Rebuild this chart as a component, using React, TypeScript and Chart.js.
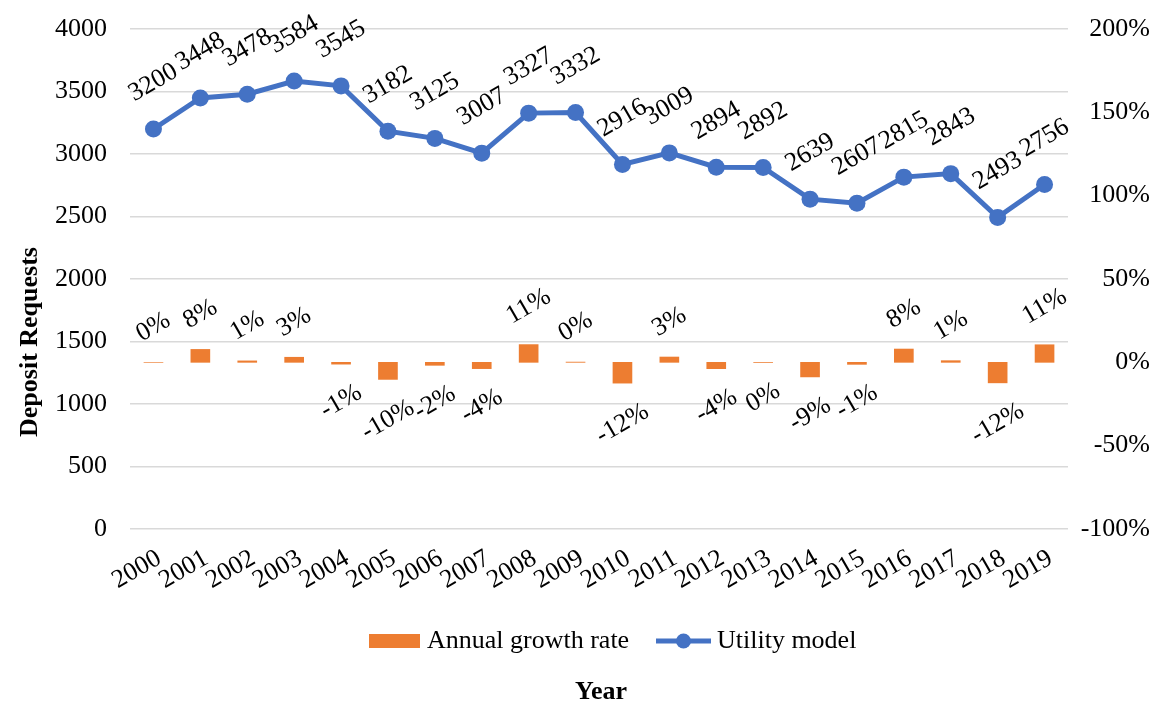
import React, { useEffect, useRef } from 'react';
import { Chart, registerables } from 'chart.js';

Chart.register(...registerables);

const years = ['2000', '2001', '2002', '2003', '2004', '2005', '2006', '2007', '2008', '2009', '2010', '2011', '2012', '2013', '2014', '2015', '2016', '2017', '2018', '2019'];
const utilityModel = [3200, 3448, 3478, 3584, 3545, 3182, 3125, 3007, 3327, 3332, 2916, 3009, 2894, 2892, 2639, 2607, 2815, 2843, 2493, 2756];
const growthRate = [0, 7.75, 0.87, 3.05, -1.09, -10.24, -1.79, -3.78, 10.64, 0.15, -12.48, 3.19, -3.82, -0.07, -8.75, -1.21, 7.98, 0.99, -12.31, 10.55];

const leftAxis = { min: 0, max: 4000, step: 500 };
const rightAxis = { min: -100, max: 200, step: 50 };

const seriesNames = { bar: 'Annual growth rate', line: 'Utility model' };
const axisTitles = { x: 'Year', y: 'Deposit Requests' };

const FONT = "'Liberation Serif', 'Times New Roman', serif";
const BLUE = '#4472C4';
const ORANGE = '#ED7D31';
const ANGLE = 30;

const labelPlugin = {
  id: 'rotLabels',
  afterDatasetsDraw(chart: any) {
    const ctx = chart.ctx;
    const a = (ANGLE * Math.PI) / 180;
    ctx.save();
    ctx.font = `26px ${FONT}`;
    ctx.fillStyle = '#000';
    ctx.textAlign = 'center';
    ctx.textBaseline = 'middle';
    chart.data.datasets.forEach((ds: any, di: number) => {
      const meta = chart.getDatasetMeta(di);
      const isBar = ds.type === 'bar';
      meta.data.forEach((el: any, i: number) => {
        const v = ds.data[i];
        const text = isBar ? `${Math.round(v)}%` : String(v);
        const w = ctx.measureText(text).width;
        const hh = (w * Math.sin(a) + 22 * Math.cos(a)) / 2;
        const gap = isBar ? 17 : 24;
        const y = v >= 0 ? el.y - gap - hh : el.y + gap + hh;
        ctx.save();
        ctx.translate(el.x, y);
        ctx.rotate(-a);
        ctx.fillText(text, 0, 0);
        ctx.restore();
      });
    });
    ctx.restore();
  },
};

const decorPlugin = {
  id: 'decor',
  afterDraw(chart: any) {
    const ctx = chart.ctx;
    ctx.save();
    ctx.fillStyle = '#000';
    ctx.font = `bold 26px ${FONT}`;
    ctx.textAlign = 'center';
    ctx.textBaseline = 'middle';
    ctx.save();
    ctx.translate(30, 342);
    ctx.rotate(-Math.PI / 2);
    ctx.fillText(axisTitles.y, 0, 0);
    ctx.restore();
    ctx.fillText(axisTitles.x, 601, 692);
    const ly = 641;
    ctx.fillStyle = ORANGE;
    ctx.fillRect(369, ly - 7, 51, 14);
    ctx.fillStyle = '#000';
    ctx.font = `26px ${FONT}`;
    ctx.textAlign = 'left';
    ctx.fillText(seriesNames.bar, 427, ly);
    ctx.strokeStyle = BLUE;
    ctx.lineWidth = 5;
    ctx.beginPath();
    ctx.moveTo(656, ly);
    ctx.lineTo(711, ly);
    ctx.stroke();
    ctx.fillStyle = BLUE;
    ctx.beginPath();
    ctx.arc(683.5, ly, 7.5, 0, Math.PI * 2);
    ctx.fill();
    ctx.fillStyle = '#000';
    ctx.fillText(seriesNames.line, 717, ly);
    ctx.restore();
  },
};

export default function App() {
  const ref = useRef<HTMLCanvasElement | null>(null);

  useEffect(() => {
    if (!ref.current) return;
    const chart = new Chart(ref.current, {
      type: 'bar',
      data: {
        labels: years,
        datasets: [
          {
            type: 'line',
            label: seriesNames.line,
            data: utilityModel,
            yAxisID: 'y',
            borderColor: BLUE,
            backgroundColor: BLUE,
            borderWidth: 5,
            pointRadius: 8.5,
            pointBackgroundColor: BLUE,
            pointBorderWidth: 0,
            tension: 0,
            order: 0,
          } as any,
          {
            type: 'bar',
            label: seriesNames.bar,
            data: growthRate,
            yAxisID: 'y1',
            backgroundColor: ORANGE,
            barThickness: 19,
            order: 1,
          } as any,
        ],
      },
      options: {
        animation: false,
        responsive: false,
        layout: { padding: { top: 29, right: 13, left: 0, bottom: 0 } },
        plugins: {
          legend: { display: false },
          tooltip: { enabled: false },
        },
        scales: {
          x: {
            type: 'category',
            offset: true,
            grid: { display: false, drawTicks: false },
            border: { display: false },
            ticks: {
              autoSkip: false,
              minRotation: ANGLE,
              maxRotation: ANGLE,
              padding: 14,
              labelOffset: 6,
              color: '#000',
              font: { family: FONT, size: 26 },
            },
            afterFit: (s: any) => {
              s.height = 175;
              s.paddingTop = 0;
              s.paddingBottom = 0;
            },
          },
          y: {
            position: 'left',
            min: leftAxis.min,
            max: leftAxis.max,
            ticks: {
              stepSize: leftAxis.step,
              padding: 23,
              color: '#000',
              font: { family: FONT, size: 26 },
              callback: (v: any) => String(v),
            },
            grid: { color: '#D9D9D9', lineWidth: 1.5, drawTicks: false },
            border: { display: false },
            afterFit: (s: any) => {
              s.width = 130;
              s.paddingTop = 0;
              s.paddingBottom = 0;
            },
          },
          y1: {
            position: 'right',
            min: rightAxis.min,
            max: rightAxis.max,
            ticks: {
              stepSize: rightAxis.step,
              padding: 20,
              crossAlign: 'far',
              color: '#000',
              font: { family: FONT, size: 26 },
              callback: (v: any) => `${v}%`,
            },
            grid: { display: false, drawTicks: false },
            border: { display: false },
            afterFit: (s: any) => {
              s.width = 82;
              s.paddingTop = 0;
              s.paddingBottom = 0;
            },
          },
        },
      },
      plugins: [labelPlugin, decorPlugin],
    });
    return () => chart.destroy();
  }, []);

  return (
    <div style={{ position: 'fixed', left: 0, top: 0, width: 1163, height: 704, background: '#fff' }}>
      <canvas ref={ref} width={1163} height={704} style={{ width: 1163, height: 704, display: 'block' }} />
    </div>
  );
}
